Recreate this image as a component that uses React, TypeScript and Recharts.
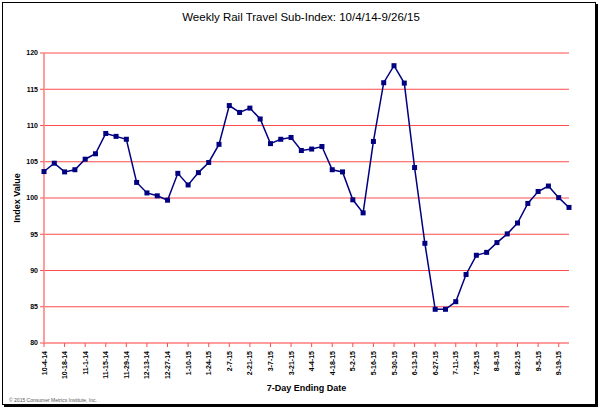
import React from 'react';
import { LineChart, Line, XAxis, YAxis, CartesianGrid } from 'recharts';

// week ending dates
const weeks = [
  '10-4-14', '10-11-14', '10-18-14', '10-25-14', '11-1-14', '11-8-14', '11-15-14', '11-22-14',
  '11-29-14', '12-6-14', '12-13-14', '12-20-14', '12-27-14', '1-3-15', '1-10-15', '1-17-15',
  '1-24-15', '1-31-15', '2-7-15', '2-14-15', '2-21-15', '2-28-15', '3-7-15', '3-14-15',
  '3-21-15', '3-28-15', '4-4-15', '4-11-15', '4-18-15', '4-25-15', '5-2-15', '5-9-15',
  '5-16-15', '5-23-15', '5-30-15', '6-6-15', '6-13-15', '6-20-15', '6-27-15', '7-4-15',
  '7-11-15', '7-18-15', '7-25-15', '8-1-15', '8-8-15', '8-15-15', '8-22-15', '8-29-15',
  '9-5-15', '9-12-15', '9-19-15', '9-26-15',
];

const indexValues = [
  103.65, 104.8, 103.6, 103.9, 105.35, 106.1, 108.9, 108.5, 108.1, 102.15,
  100.7, 100.3, 99.7, 103.4, 101.8, 103.5, 104.9, 107.4, 112.75, 111.8,
  112.4, 110.9, 107.5, 108.1, 108.35, 106.55, 106.75, 107.1, 103.9, 103.6,
  99.75, 97.95, 107.8, 115.9, 118.25, 115.85, 104.2, 93.75, 84.65, 84.65,
  85.7, 89.45, 92.1, 92.5, 93.85, 95.05, 96.55, 99.25, 100.9, 101.65,
  100.05, 98.7,
];

const yTicks = [80, 85, 90, 95, 100, 105, 110, 115, 120];

const data = weeks.map((w, i) => ({ week: w, value: indexValues[i] }));

const FONT = '"Liberation Sans", Arial, sans-serif';

const SquareDot = (props: any) => {
  const { cx, cy } = props;
  if (cx == null || cy == null) return null;
  return <rect x={cx - 2.5} y={cy - 2.5} width={5} height={5} fill="#000080" />;
};

const XTick = (props: any) => {
  const { x, y, payload } = props;
  return (
    <text
      x={0}
      y={0}
      transform={`translate(${x + 2.5},${y + 2}) rotate(-90)`}
      textAnchor="end"
      fontSize={7}
      fontWeight="bold"
      fontFamily={FONT}
      fill="#000"
    >
      {payload.value}
    </text>
  );
};

const App = () => {
  return (
    <div style={{ position: 'absolute', left: 0, top: 0, width: 602, height: 411, background: '#fff', fontFamily: FONT }}>
      <div
        style={{
          position: 'absolute',
          left: 2,
          top: 2,
          width: 592,
          height: 401,
          border: '1px solid #000',
          boxShadow: '2px 2px 0 #000',
        }}
      />
      <div style={{ position: 'absolute', left: 0, top: 11, width: 602, textAlign: 'center', fontSize: 11.5 }}>
        Weekly Rail Travel Sub-Index: 10/4/14-9/26/15
      </div>
      <div
        style={{
          position: 'absolute',
          left: 17,
          top: 198,
          transform: 'translate(-50%, -50%) rotate(-90deg)',
          fontSize: 9,
          fontWeight: 'bold',
          whiteSpace: 'nowrap',
        }}
      >
        Index Value
      </div>
      <div style={{ position: 'absolute', left: 44, top: 383, width: 525, textAlign: 'center', fontSize: 9, fontWeight: 'bold' }}>
        7-Day Ending Date
      </div>
      <div style={{ position: 'absolute', left: 9, top: 397, fontSize: 5, color: '#555' }}>
        © 2015 Consumer Metrics Institute, Inc.
      </div>
      <div style={{ position: 'absolute', left: 0, top: 0 }}>
        <LineChart width={602} height={411} data={data} margin={{ top: 53, right: 33, left: 0, bottom: 28 }}>
          <CartesianGrid horizontal vertical={false} stroke="#ff4c4c" strokeWidth={1} />
          <XAxis
            dataKey="week"
            interval={1}
            height={40}
            tick={<XTick />}
            tickLine={{ stroke: '#ff4c4c' }}
            tickSize={4}
            axisLine={{ stroke: '#ff9c9c', strokeWidth: 2 }}
          />
          <YAxis
            domain={[80, 120]}
            ticks={yTicks}
            width={44}
            tickSize={4}
            tickLine={{ stroke: '#ff4c4c' }}
            axisLine={{ stroke: '#ff9c9c', strokeWidth: 2 }}
            tick={{ fontSize: 7, fontWeight: 'bold', fill: '#000', fontFamily: FONT }}
          />
          <YAxis
            yAxisId="right"
            orientation="right"
            domain={[80, 120]}
            width={0}
            tick={false}
            tickLine={false}
            axisLine={{ stroke: '#ff4c4c' }}
          />
          <Line
            type="linear"
            dataKey="value"
            stroke="#000080"
            strokeWidth={1.5}
            dot={<SquareDot />}
            activeDot={false}
            isAnimationActive={false}
          />
        </LineChart>
      </div>
    </div>
  );
};

export default App;
